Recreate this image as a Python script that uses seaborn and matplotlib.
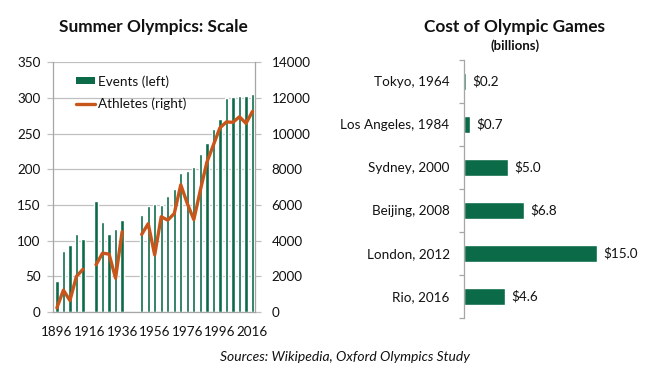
import numpy as np
import pandas as pd
import matplotlib
matplotlib.use("Agg")
import matplotlib.pyplot as plt
import seaborn as sns
from matplotlib.patches import Patch
from matplotlib.lines import Line2D

# ---- data ----
all_years = list(range(1896, 2017, 4))
held_years = [1896, 1900, 1904, 1908, 1912,
              1920, 1924, 1928, 1932, 1936,
              1948, 1952, 1956, 1960, 1964, 1968, 1972, 1976, 1980,
              1984, 1988, 1992, 1996, 2000, 2004, 2008, 2012, 2016]
events = [43, 85, 94, 110, 102,
          156, 126, 109, 117, 129,
          136, 149, 151, 150, 163, 172, 195, 198, 203,
          221, 237, 257, 271, 300, 301, 302, 302, 306]
athletes = [241, 1230, 650, 2000, 2400,
            2650, 3300, 3250, 1900, 4500,
            4350, 4950, 3200, 5340, 5150, 5520, 7130, 6080, 5180,
            6830, 8390, 9360, 10320, 10650, 10630, 10940, 10570, 11240]
segment = [1] * 5 + [2] * 5 + [3] * 18
tick_years = [1896, 1916, 1936, 1956, 1976, 1996, 2016]

cities = ["Tokyo, 1964", "Los Angeles, 1984", "Sydney, 2000",
          "Beijing, 2008", "London, 2012", "Rio, 2016"]
cost = [0.2, 0.7, 5.0, 6.8, 15.0, 4.6]

GREEN = "#0b6b48"
ORANGE = "#c8561a"
GRID = "#c0c0c0"
SPINE = "#a6a6a6"
TXT = "#111111"

sns.set_theme(style="white")
plt.rcParams["font.family"] = ["Lato", "DejaVu Sans"]
plt.rcParams["text.color"] = TXT
plt.rcParams["xtick.color"] = TXT
plt.rcParams["ytick.color"] = TXT

fig = plt.figure(figsize=(6.5, 3.72), dpi=100)

# ---- left panel ----
XL = (-0.6, 30.35)
ax = fig.add_axes([0.0815, 0.161, 0.3105, 0.672])
slot = {y: i for i, y in enumerate(all_years)}
df = pd.DataFrame({"year": held_years, "events": events, "athletes": athletes,
                   "seg": segment})
df["pos"] = [slot[y] for y in held_years]
df["year_s"] = df["year"].astype(str)

sns.barplot(data=df, x="year_s", y="events", order=[str(y) for y in all_years],
            color=GREEN, saturation=1, width=0.5, ax=ax, zorder=2)
ax.set_xlim(*XL)
ax.set_ylim(0, 350)
ax.set_yticks(range(0, 351, 50))
ax.set_xticks([slot[y] for y in tick_years])
ax.set_xticklabels([str(y) for y in tick_years])
ax.set_xlabel("")
ax.set_ylabel("")
ax.yaxis.grid(True, color=GRID, lw=0.9, zorder=0)
ax.set_axisbelow(True)
for s in ["left", "bottom"]:
    ax.spines[s].set_color(SPINE)
    ax.spines[s].set_linewidth(0.9)
ax.spines["top"].set_visible(False)
ax.spines["right"].set_visible(False)
ax.tick_params(axis="x", length=0, labelsize=9.7, pad=10)
ax.tick_params(axis="y", length=4, width=0.9, color=GRID, labelsize=9.7, pad=5)

ax2 = ax.twinx()
sns.lineplot(data=df, x="pos", y="athletes", units="seg", estimator=None,
             color=ORANGE, lw=2.4, ax=ax2, zorder=3)
ax2.set_ylim(0, 14000)
ax2.set_yticks(range(0, 14001, 2000))
ax2.set_xlim(*XL)
ax2.set_ylabel("")
ax2.set_xlabel("")
for s in ["top", "left", "bottom"]:
    ax2.spines[s].set_visible(False)
ax2.spines["right"].set_color(SPINE)
ax2.spines["right"].set_linewidth(0.9)
ax2.tick_params(axis="y", length=4, width=0.9, color=GRID, labelsize=9.7, pad=8)

handles = [Patch(facecolor=GREEN, edgecolor="none"),
           Line2D([0], [0], color=ORANGE, lw=2.4)]
ax2.legend(handles, ["Events (left)", "Athletes (right)"], loc="upper left",
           bbox_to_anchor=(0.112, 0.948), frameon=False, fontsize=9.7,
           handlelength=1.45, handleheight=0.45, handletextpad=0.2,
           labelspacing=0.75, borderaxespad=0, borderpad=0)

fig.text(0.236, 0.928, "Summer Olympics: Scale", ha="center", va="center",
         fontsize=12.4, fontweight="bold")

# ---- right panel ----
bx = fig.add_axes([0.714, 0.145, 0.232, 0.694])
cdf = pd.DataFrame({"city": cities, "cost": cost})
sns.barplot(data=cdf, x="cost", y="city", orient="h", color=GREEN,
            saturation=1, width=0.38, ax=bx)
bx.set_xlim(0, 17)
bx.set_ylim(5.5, -0.5)
bx.set_xlabel("")
bx.set_ylabel("")
bx.set_xticks([])
for s in ["top", "right", "bottom"]:
    bx.spines[s].set_visible(False)
bx.spines["left"].set_color(SPINE)
bx.spines["left"].set_linewidth(0.9)
bx.set_yticks(np.arange(-0.5, 6.0, 1.0), minor=True)
bx.tick_params(axis="y", which="major", length=0, labelsize=9.7, pad=10.5)
bx.tick_params(axis="y", which="minor", length=3.5, width=0.9, color=SPINE,
               left=True)
for i, v in enumerate(cost):
    bx.text(v + 0.7, i, f"${v:.1f}", va="center", ha="left", fontsize=9.7)

fig.text(0.792, 0.928, "Cost of Olympic Games", ha="center", va="center",
         fontsize=12.4, fontweight="bold")
fig.text(0.792, 0.878, "(billions)", ha="center", va="center",
         fontsize=9.5, fontweight="bold")

fig.text(0.531, 0.040, "Sources: Wikipedia, Oxford Olympics Study",
         ha="center", va="center", fontsize=10, style="italic")

fig.savefig("out.png", dpi=100)
